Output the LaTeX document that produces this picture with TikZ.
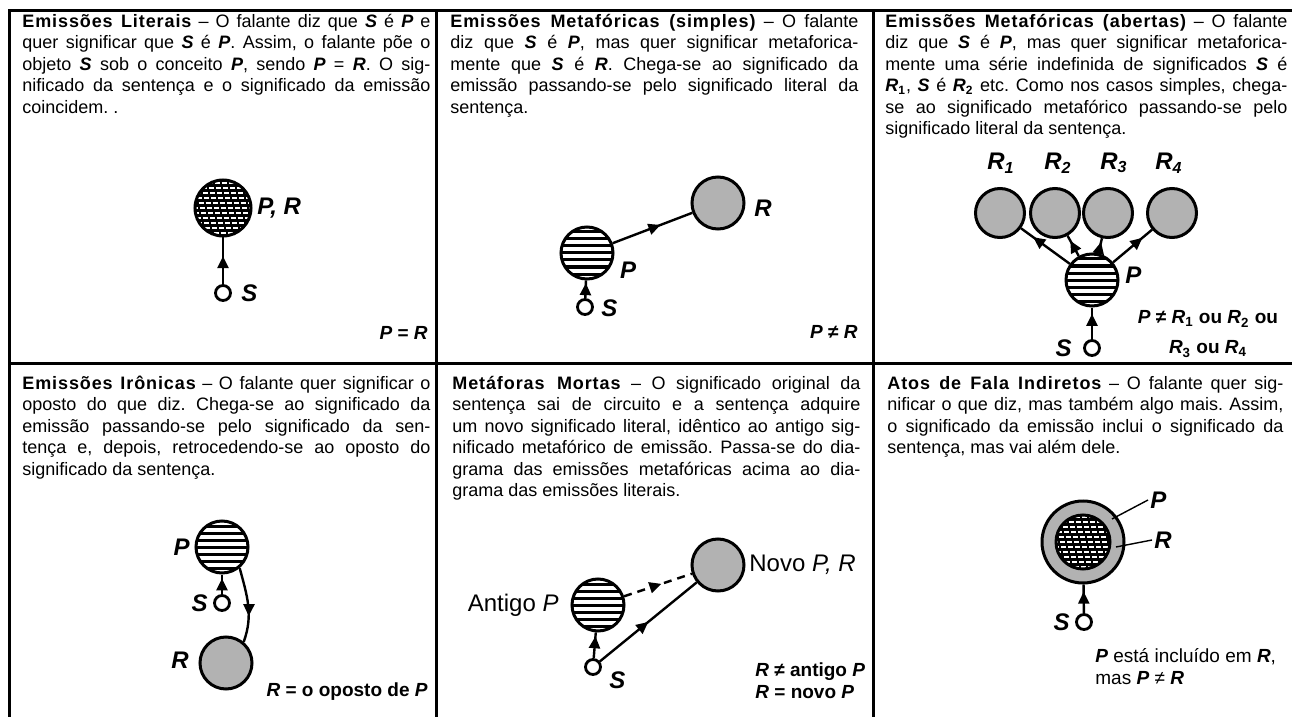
\documentclass[tikz,border=0pt]{standalone}
\usepackage{fontspec}
\setmainfont{Liberation Sans}
\newfontfamily\headfont[LetterSpace=5]{Liberation Sans}
\usetikzlibrary{arrows.meta,decorations.markings}
\frenchspacing
\newlength{\linew}
\newcommand{\jl}[1]{\makebox[\linew][s]{\strut#1}}
\newcommand{\hd}[1]{{\headfont\bfseries #1}}
\newcommand{\iv}[1]{\textbf{\textit{#1}}}

\begin{document}
\begin{tikzpicture}[x=0.5pt, y=-0.5pt,
  body/.style={anchor=north west, inner sep=0pt, align=left,
    font=\fontsize{9}{10.75}\selectfont, execute at begin node={\setlength{\linew}{#1}}},
  frame/.style={line width=1.5pt},
  sent/.style={circle, draw, line width=1.5pt, minimum size=26pt, inner sep=0pt, fill=white,
    path picture={\foreach \k in {-4,...,4}
      \draw[line width=1.5pt] ([shift={(-30,\k*7)}]path picture bounding box.center) -- ++(60,0);}},
  dark/.style={circle, draw, line width=1.5pt, minimum size=#1, inner sep=0pt, fill=black,
    path picture={\foreach \k in {-6,...,6}
      \draw[white, line width=0.8pt, dash pattern=on 2.5pt off 1pt]
        ([shift={(-30+\k*1.3,\k*5)}]path picture bounding box.center) -- ++(60,0);}},
  emis/.style={circle, draw, line width=1.5pt, minimum size=#1, inner sep=0pt, fill=black!30},
  emis/.default=26pt,
  obj/.style={circle, draw, line width=1.4pt, minimum size=7.5pt, inner sep=0pt, fill=white},
  link/.style={line width=1.2pt},
  midarr/.style={postaction={decorate}, decoration={markings,
    mark=at position #1 with {\arrow{Triangle[length=6pt,width=5.5pt]}}}},
  lbl/.style={inner sep=1pt, font=\fontsize{12}{14}\selectfont\bfseries\itshape},
  eq/.style={inner sep=0pt, font=\fontsize{9.5}{11}\selectfont\bfseries}]
  \useasboundingbox (0,0) rectangle (1292,717);

  % frame
  \draw[frame] (9,717) -- (9,11) -- (1292,11);
  \draw[frame] (9,363) -- (1292,363);
  \draw[frame] (436,11) -- (436,717);
  \draw[frame] (873,11) -- (873,717);

  % literais
  \node[body=204pt] (t1) at (22,12) {\jl{\hd{Emissões Literais} – O falante diz que \iv{S} é \iv{P} e}\\
    \jl{quer significar que \iv{S} é \iv{P}. Assim, o falante põe o}\\
    \jl{objeto \iv{S} sob o conceito \iv{P}, sendo \iv{P} = \iv{R}. O sig-}\\
    \jl{nificado da sentença e o significado da emissão}\\
    \strut coincidem. .};
  \node[dark=28pt] (pr1) at (223,208) {};
  \node[obj] (s1) at (223,293) {};
  \draw[link, midarr=0.6] (s1) -- (pr1);
  \node[lbl, anchor=west] (lpr1) at (255,208) {P, R};
  \node[lbl, anchor=west] (ls1) at (239,293) {S};
  \node[eq, anchor=east] (eq1) at (428,333) {\iv{P} = \iv{R}};

  % metaforicas simples
  \node[body=204pt] (t2) at (450,12) {\jl{\hd{Emissões Metafóricas (simples)} – O falante}\\
    \jl{diz que \iv{S} é \iv{P}, mas quer significar metaforica-}\\
    \jl{mente que \iv{S} é \iv{R}. Chega-se ao significado da}\\
    \jl{emissão passando-se pelo significado literal da}\\
    \strut sentença.};
  \node[sent] (p2) at (587,253) {};
  \node[emis] (r2) at (718,203) {};
  \node[obj] (s2) at (585,307) {};
  \draw[link, midarr=0.85] (s2) -- (p2);
  \draw[link, midarr=0.6] (p2) -- (r2);
  \node[lbl] (lp2) at (628,270) {P};
  \node[lbl, anchor=west] (lr2) at (752,208) {R};
  \node[lbl, anchor=west] (ls2) at (599,308) {S};
  \node[eq, anchor=east] (eq2) at (858,332) {\iv{P} ≠ \iv{R}};

  % metaforicas abertas
  \node[body=201pt] (t3) at (885,12) {\jl{\hd{Emissões Metafóricas (abertas)} – O falante}\\
    \jl{diz que \iv{S} é \iv{P}, mas quer significar metaforica-}\\
    \jl{mente uma série indefinida de significados \iv{S} é}\\
    \jl{\iv{R}\textsubscript{\textbf{1}}, \iv{S} é \iv{R}\textsubscript{\textbf{2}} etc. Como nos casos simples, chega-}\\
    \jl{se ao significado metafórico passando-se pelo}\\
    \strut significado literal da sentença.};
  \foreach \i/\x in {1/1000,2/1055,3/1108,4/1172}
    \node[emis=24.5pt] (r3\i) at (\x,213) {};
  \foreach \i/\x in {1/1001,2/1058,3/1114,4/1169}
    \node[lbl] (lr3\i) at (\x,163) {R\textsubscript{\i}};
  \node[sent] (p3) at (1092,280) {};
  \node[obj] (s3) at (1092,348) {};
  \draw[link, midarr=0.8] (s3) -- (p3);
  \foreach \i in {1,...,4}
    \draw[link, midarr=0.75] (p3) -- (r3\i);
  \node[lbl, anchor=west] (lp3) at (1123,275) {P};
  \node[lbl, anchor=east] (ls3) at (1074,348) {S};
  \node[eq, align=center] (eq3) at (1208,334)
    {\iv{P} ≠ \iv{R}\textsubscript{1} ou \iv{R}\textsubscript{2} ou\\[4pt] \iv{R}\textsubscript{3} ou \iv{R}\textsubscript{4}};

  % ironicas
  \node[body=204pt] (t4) at (22,374) {\jl{\hd{Emissões Irônicas} – O falante quer significar o}\\
    \jl{oposto do que diz. Chega-se ao significado da}\\
    \jl{emissão passando-se pelo significado da sen-}\\
    \jl{tença e, depois, retrocedendo-se ao oposto do}\\
    \strut significado da sentença.};
  \node[sent] (p4) at (222,547) {};
  \node[obj] (s4) at (222,603) {};
  \node[emis] (r4) at (226,663) {};
  \draw[link, midarr=0.8] (s4) -- (p4);
  \draw[link, midarr=0.65] (p4.-50) to[out=-75, in=70] (r4.50);
  \node[lbl, anchor=east] (lp4) at (192,547) {P};
  \node[lbl, anchor=east] (ls4) at (210,603) {S};
  \node[lbl, anchor=east] (lr4) at (191,660) {R};
  \node[eq, anchor=east] (eq4) at (428,692) {\iv{R} = o oposto de \iv{P}};

  % metaforas mortas
  \node[body=204pt] (t5) at (452,374) {\jl{\hd{Metáforas Mortas} – O significado original da}\\
    \jl{sentença sai de circuito e a sentença adquire}\\
    \jl{um novo significado literal, idêntico ao antigo sig-}\\
    \jl{nificado metafórico de emissão. Passa-se do dia-}\\
    \jl{grama das emissões metafóricas acima ao dia-}\\
    \strut grama das emissões literais.};
  \node[sent] (p5) at (598,605) {};
  \node[emis] (r5) at (718,565) {};
  \node[obj] (s5) at (593,667) {};
  \draw[link, midarr=0.85] (s5) -- (p5);
  \draw[link, dash pattern=on 4pt off 3pt, midarr=0.55] (p5) -- (r5);
  \draw[link, midarr=0.5] (s5) -- (r5);
  \node[anchor=east, inner sep=1pt, font=\fontsize{12}{14}\selectfont] (lp5) at (561,605) {Antigo \textit{P}};
  \node[anchor=west, inner sep=1pt, font=\fontsize{12}{14}\selectfont] (lr5) at (747,565) {Novo \textit{P, R}};
  \node[lbl, anchor=west] (ls5) at (607,680) {S};
  \node[eq, anchor=west, align=left] (eq5) at (755,681) {\iv{R} ≠ antigo \iv{P}\\ \iv{R} = novo \iv{P}};

  % atos de fala indiretos
  \node[body=198pt] (t6) at (887,374) {\jl{\hd{Atos de Fala Indiretos} – O falante quer sig-}\\
    \jl{nificar o que diz, mas também algo mais. Assim,}\\
    \jl{o significado da emissão inclui o significado da}\\
    \strut sentença, mas vai além dele.};
  \node[emis=41pt] (r6) at (1083,542) {};
  \node[dark=27pt] (p6) at (1083,542) {};
  \node[obj] (s6) at (1084,622) {};
  \draw[link, midarr=0.75] (s6) -- (r6);
  \coordinate (pin) at (1112,519);
  \coordinate (rin) at (1116,547);
  \node[lbl, anchor=west] (lp6) at (1148,500) {P};
  \node[lbl, anchor=west] (lr6) at (1152,540) {R};
  \draw[line width=0.7pt] (pin) -- (lp6.west);
  \draw[line width=0.7pt] (rin) -- (lr6.west);
  \node[lbl, anchor=east] (ls6) at (1072,622) {S};
  \node[anchor=west, align=left, inner sep=0pt, font=\fontsize{9.5}{11}\selectfont] (eq6) at (1095,667)
    {\iv{P} está incluído em \iv{R},\\ mas \iv{P} ≠ \iv{R}};
\end{tikzpicture}
\end{document}
